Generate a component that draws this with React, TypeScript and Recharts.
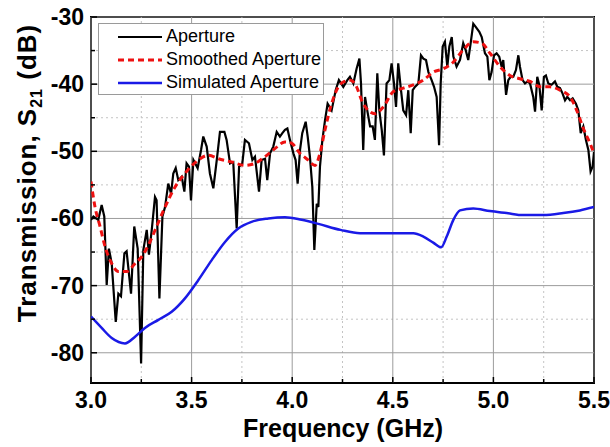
import {
  LineChart,
  Line,
  XAxis,
  YAxis,
  ReferenceLine,
  ReferenceArea,
  Legend,
} from 'recharts';

// measured "Aperture" trace (GHz, dB)
const apertureFreq = [
  3.0, 3.012, 3.036, 3.053, 3.066, 3.078, 3.089, 3.103, 3.123, 3.136, 3.149, 3.166, 3.177, 3.199,
  3.215, 3.232, 3.249, 3.26, 3.277, 3.288, 3.302, 3.318, 3.326, 3.34, 3.355, 3.368, 3.384, 3.398,
  3.409, 3.421, 3.434, 3.451, 3.464, 3.475, 3.487, 3.497, 3.509, 3.53, 3.547, 3.558, 3.575, 3.591,
  3.608, 3.625, 3.641, 3.663, 3.674, 3.691, 3.707, 3.724, 3.736, 3.752, 3.765, 3.785, 3.802, 3.815,
  3.835, 3.848, 3.865, 3.876, 3.89, 3.906, 3.923, 3.939, 3.951, 3.964, 3.976, 3.989, 4.006, 4.017,
  4.027, 4.039, 4.05, 4.067, 4.077, 4.088, 4.1, 4.11, 4.122, 4.13, 4.138, 4.15, 4.163, 4.176,
  4.196, 4.216, 4.232, 4.254, 4.274, 4.287, 4.304, 4.32, 4.334, 4.342, 4.353, 4.362, 4.373, 4.387,
  4.4, 4.411, 4.423, 4.433, 4.445, 4.456, 4.469, 4.483, 4.494, 4.506, 4.516, 4.527, 4.539, 4.552,
  4.566, 4.577, 4.589, 4.599, 4.61, 4.627, 4.64, 4.652, 4.665, 4.677, 4.693, 4.705, 4.718, 4.73,
  4.738, 4.748, 4.759, 4.771, 4.781, 4.793, 4.801, 4.817, 4.834, 4.85, 4.862, 4.875, 4.887, 4.9,
  4.913, 4.93, 4.942, 4.958, 4.97, 4.98, 4.991, 5.003, 5.016, 5.029, 5.041, 5.049, 5.063, 5.074,
  5.086, 5.099, 5.112, 5.124, 5.132, 5.145, 5.157, 5.169, 5.182, 5.198, 5.207, 5.218, 5.228, 5.24,
  5.251, 5.261, 5.273, 5.289, 5.306, 5.318, 5.331, 5.344, 5.356, 5.367, 5.381, 5.394, 5.41, 5.422,
  5.434, 5.447, 5.46, 5.472, 5.483, 5.493, 5.5,
];
const apertureDb = [
  -60.2, -59.7, -60.2, -58.0, -59.7, -69.9, -64.5, -66.7, -75.4, -71.2, -71.6, -65.2, -64.9, -71.2,
  -61.2, -64.5, -81.6, -64.7, -61.7, -65.4, -61.7, -56.8, -57.3, -71.9, -59.7, -58.3, -54.8, -56.3,
  -53.3, -52.5, -54.3, -53.8, -56.0, -51.8, -52.3, -57.3, -51.3, -52.5, -49.8, -47.8, -49.3, -53.3,
  -55.5, -51.3, -47.1, -47.1, -48.3, -51.8, -51.6, -61.5, -52.3, -51.8, -48.3, -48.8, -51.3, -50.8,
  -56.0, -51.3, -51.1, -54.3, -50.3, -49.3, -47.1, -47.8, -47.3, -46.8, -46.6, -48.3, -50.3, -51.3,
  -54.8, -49.8, -47.3, -45.6, -47.8, -50.8, -55.3, -64.7, -57.8, -58.3, -52.3, -48.3, -45.4, -42.9,
  -43.9, -40.9, -39.4, -40.4, -39.4, -38.9, -39.9, -37.7, -36.2, -39.9, -49.8, -41.9, -43.9, -46.3,
  -46.3, -48.3, -38.4, -43.9, -46.8, -50.6, -39.9, -39.4, -36.9, -39.9, -43.4, -36.9, -40.4, -43.9,
  -44.6, -40.9, -47.3, -40.9, -40.4, -39.9, -35.7, -36.2, -36.4, -38.2, -39.4, -40.4, -41.9, -49.1,
  -39.9, -34.4, -33.7, -37.4, -34.4, -33.0, -35.9, -37.4, -36.4, -33.9, -34.9, -36.4, -33.9, -31.0,
  -31.5, -32.2, -33.0, -35.4, -35.9, -39.4, -38.2, -35.7, -35.4, -35.9, -37.4, -36.4, -41.6, -39.4,
  -38.9, -38.9, -37.9, -35.7, -37.4, -39.4, -39.9, -39.6, -39.9, -41.9, -44.1, -38.9, -40.1, -43.9,
  -38.9, -38.7, -39.9, -40.1, -39.6, -40.4, -40.6, -41.4, -42.4, -41.9, -42.4, -42.1, -42.9, -43.9,
  -47.3, -46.3, -48.3, -49.8, -53.0, -52.3, -50.1,
];

const smoothedFreq = [
  3.0, 3.02, 3.045, 3.07, 3.103, 3.136, 3.177, 3.219, 3.252, 3.293, 3.326, 3.368, 3.418, 3.467,
  3.533, 3.583, 3.633, 3.699, 3.765, 3.815, 3.865, 3.914, 3.964, 3.997, 4.039, 4.08, 4.113, 4.138,
  4.163, 4.196, 4.229, 4.26, 4.29, 4.32, 4.345, 4.378, 4.411, 4.453, 4.503, 4.552, 4.602, 4.652,
  4.701, 4.751, 4.801, 4.85, 4.9, 4.942, 4.983, 5.033, 5.082, 5.132, 5.182, 5.232, 5.281, 5.331,
  5.381, 5.414, 5.447, 5.48, 5.5,
];
const smoothedDb = [
  -54.5, -58.3, -61.2, -64.2, -66.7, -67.9, -67.9, -66.7, -65.7, -63.5, -61.2, -58.3, -55.3, -53.3,
  -51.3, -50.6, -51.1, -51.6, -52.1, -51.8, -50.8, -49.6, -48.6, -48.8, -50.3, -51.3, -52.1, -50.3,
  -46.8, -42.9, -40.4, -39.6, -39.4, -40.4, -42.4, -43.9, -44.4, -43.4, -41.1, -40.6, -40.1, -39.4,
  -38.2, -37.7, -36.7, -34.9, -33.7, -33.9, -35.4, -37.4, -38.7, -39.2, -39.6, -40.4, -40.4, -40.9,
  -41.9, -43.9, -46.6, -48.8, -50.3,
];

const simulatedFreq = [
  3.0, 3.053, 3.103, 3.169, 3.219, 3.268, 3.335, 3.401, 3.467, 3.533, 3.6, 3.666, 3.732, 3.798,
  3.881, 3.964, 4.047, 4.13, 4.24, 4.337, 4.486, 4.602, 4.652, 4.701, 4.74, 4.768, 4.801, 4.834,
  4.9, 4.983, 5.066, 5.149, 5.248, 5.347, 5.43, 5.5,
];
const simulatedDb = [
  -74.6, -76.3, -77.8, -78.6, -77.6, -76.3, -75.1, -73.9, -71.9, -69.2, -66.2, -63.5, -61.5, -60.5,
  -60.0, -59.8, -60.2, -60.8, -61.7, -62.2, -62.2, -62.2, -62.7, -63.6, -64.3, -62.7, -60.2, -58.8,
  -58.5, -58.9, -59.2, -59.5, -59.5, -59.2, -58.8, -58.3,
];

const xMajor = [3.0, 3.5, 4.0, 4.5, 5.0, 5.5];
const xMinor = [3.25, 3.75, 4.25, 4.75, 5.25];
const yMajor = [-80, -70, -60, -50, -40, -30];
const yMinor = [-75, -65, -55, -45, -35];

const toRows = (fs: number[], vs: number[]) => fs.map((f, i) => ({ f, v: vs[i] }));
const apertureData = toRows(apertureFreq, apertureDb);
const smoothedData = toRows(smoothedFreq, smoothedDb);
const simulatedData = toRows(simulatedFreq, simulatedDb);

const FONT = '"Liberation Sans", Arial, sans-serif';
const isMajor = (v: number, list: number[]) => list.some(m => Math.abs(m - v) < 1e-6);

function XTick({ x, y, payload }: any) {
  const major = isMajor(payload.value, xMajor);
  return (
    <g>
      <line x1={x} x2={x} y1={y} y2={y - (major ? 6 : 4)} stroke="#000" strokeWidth={1.5} />
      {major && (
        <text x={x} y={y + 25} textAnchor="middle" fontFamily={FONT} fontWeight="bold" fontSize={23} fill="#000">
          {payload.value.toFixed(1)}
        </text>
      )}
    </g>
  );
}

function YTick({ x, y, payload }: any) {
  const major = isMajor(payload.value, yMajor);
  return (
    <g>
      <line x1={x} x2={x + (major ? 6 : 4)} y1={y} y2={y} stroke="#000" strokeWidth={1.5} />
      {major && (
        <text x={x - 7} y={y + 8} textAnchor="end" fontFamily={FONT} fontWeight="bold" fontSize={23} fill="#000">
          {String(payload.value)}
        </text>
      )}
    </g>
  );
}

const legendItems = [
  { name: 'Aperture', color: '#000', width: 2, dash: undefined },
  { name: 'Smoothed Aperture', color: '#ee1111', width: 3, dash: '6 4' },
  { name: 'Simulated Aperture', color: '#1a1ae6', width: 2.5, dash: undefined },
];

function LegendBox() {
  return (
    <div
      style={{
        background: '#fff',
        border: '1px solid #9a9a9a',
        width: 226,
        height: 72,
        boxSizing: 'border-box',
        padding: '1px 0 0 0',
        fontFamily: FONT,
        fontSize: 18,
      }}
    >
      {legendItems.map(it => (
        <div key={it.name} style={{ display: 'flex', alignItems: 'center', height: 23 }}>
          <svg width={67} height={10} style={{ display: 'block' }}>
            <line x1={19} x2={63} y1={5} y2={5} stroke={it.color} strokeWidth={it.width} strokeDasharray={it.dash} />
          </svg>
          <span style={{ color: '#000', whiteSpace: 'nowrap' }}>{it.name}</span>
        </div>
      ))}
    </div>
  );
}

export default function App() {
  return (
    <div style={{ position: 'absolute', left: 0, top: 0, width: 610, height: 447, background: '#fff' }}>
      <LineChart width={610} height={447} margin={{ top: 17, right: 16, bottom: 0, left: 0 }}>
        <XAxis
          type="number"
          dataKey="f"
          domain={[3, 5.5]}
          ticks={[...xMajor, ...xMinor].sort((a, b) => a - b)}
          allowDataOverflow
          height={64}
          tickSize={0}
          tickMargin={0}
          tickLine={false}
          axisLine={false}
          tick={<XTick />}
          interval={0}
          label={{
            content: () => (
              <text x={343} y={437} textAnchor="middle" fontFamily={FONT} fontWeight="bold" fontSize={25} fill="#000">
                Frequency (GHz)
              </text>
            ),
          }}
        />
        <YAxis
          type="number"
          domain={[-84.5, -30]}
          ticks={[...yMajor, ...yMinor].sort((a, b) => a - b)}
          allowDataOverflow
          width={91}
          tickSize={0}
          tickMargin={0}
          tickLine={false}
          axisLine={false}
          tick={<YTick />}
          interval={0}
          label={{
            content: () => (
              <text
                transform="translate(36,173) rotate(-90)"
                textAnchor="middle"
                fontFamily={FONT}
                fontWeight="bold"
                fontSize={26}
                letterSpacing={1}
                fill="#000"
              >
                Transmission, S
                <tspan fontSize={16} dy={6}>21</tspan>
                <tspan dy={-6}> (dB)</tspan>
              </text>
            ),
          }}
        />
        {xMinor.map(v => (
          <ReferenceLine key={`xm${v}`} x={v} stroke="#c4c4c4" strokeDasharray="2 3" />
        ))}
        {yMinor.map(v => (
          <ReferenceLine key={`ym${v}`} y={v} stroke="#c4c4c4" strokeDasharray="2 3" />
        ))}
        {xMajor.map(v => (
          <ReferenceLine key={`xM${v}`} x={v} stroke="#9c9c9c" />
        ))}
        {yMajor.map(v => (
          <ReferenceLine key={`yM${v}`} y={v} stroke="#9c9c9c" />
        ))}
        <Line
          data={apertureData}
          dataKey="v"
          type="linear"
          stroke="#000"
          strokeWidth={2.2}
          dot={false}
          isAnimationActive={false}
        />
        <Line
          data={smoothedData}
          dataKey="v"
          type="monotone"
          stroke="#ee1111"
          strokeWidth={3}
          strokeDasharray="6 4"
          dot={false}
          isAnimationActive={false}
        />
        <Line
          data={simulatedData}
          dataKey="v"
          type="monotone"
          stroke="#1a1ae6"
          strokeWidth={2.5}
          dot={false}
          isAnimationActive={false}
        />
        <ReferenceArea x1={3} x2={5.5} y1={-84.5} y2={-30} fill="none" stroke="#000" strokeWidth={2} />
        <Legend
          layout="horizontal"
          align="center"
          verticalAlign="middle"
          wrapperStyle={{ left: 98, top: 23, width: 226 }}
          content={() => <LegendBox />}
        />
      </LineChart>
    </div>
  );
}
